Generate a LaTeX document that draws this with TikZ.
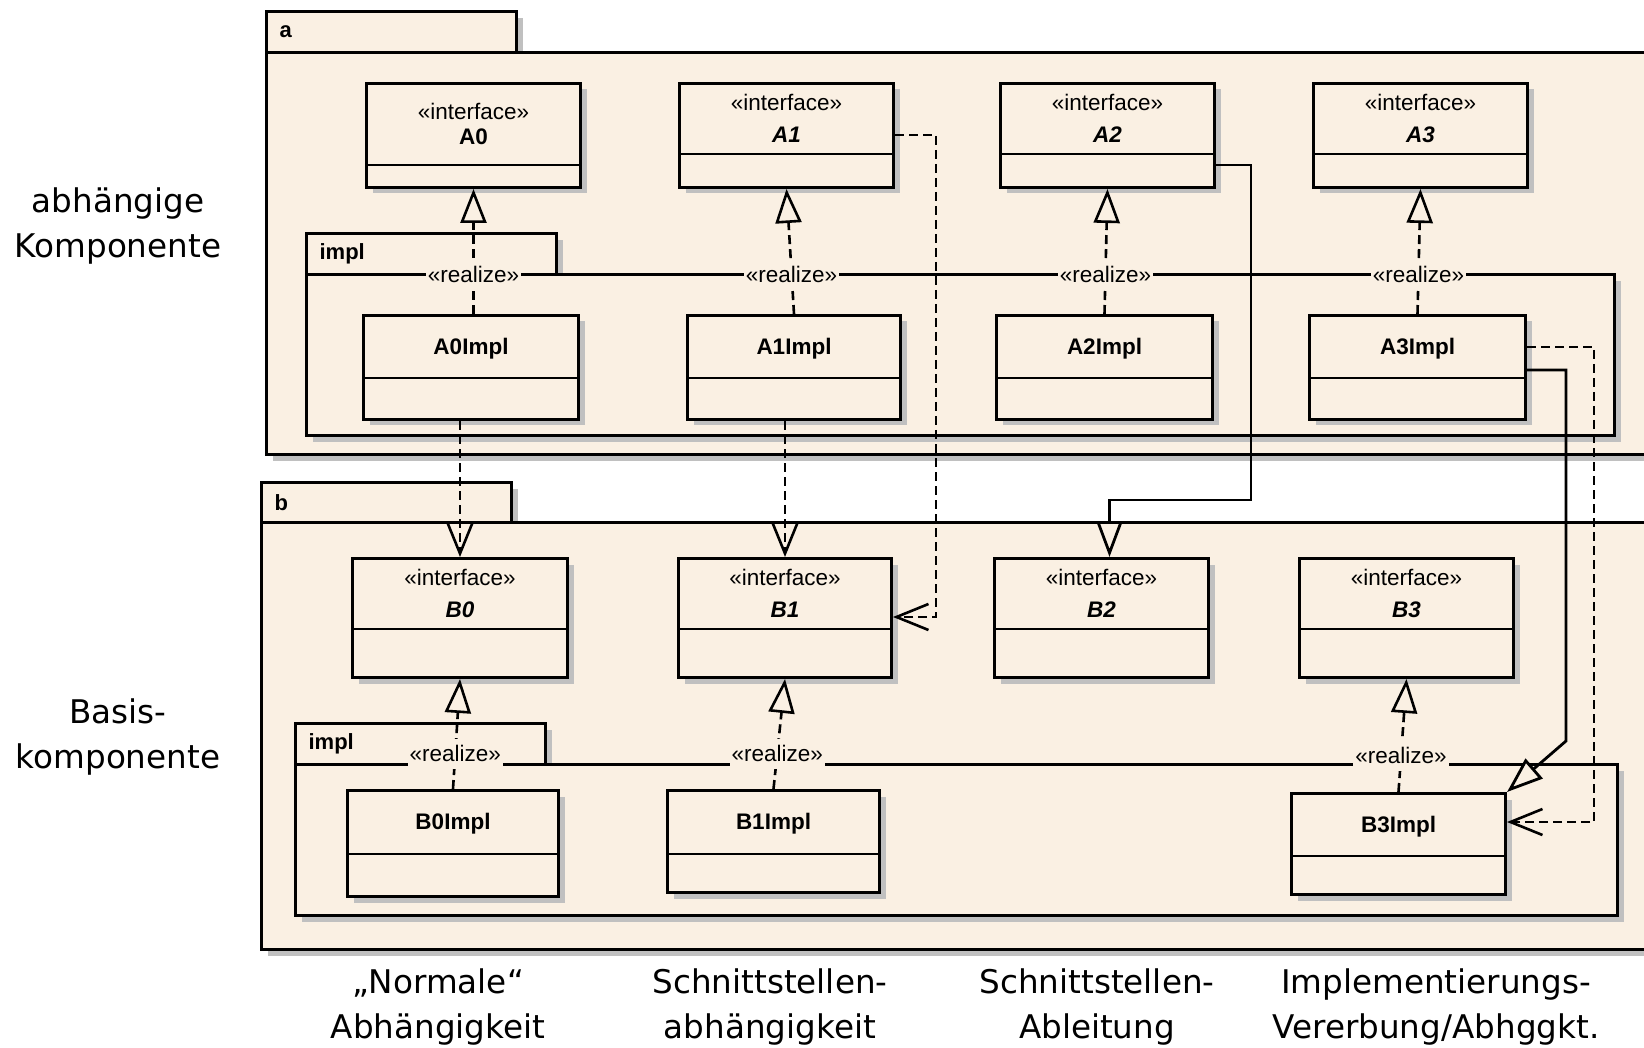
\documentclass[tikz,border=0pt]{standalone}
\usepackage{fontspec}
\setmainfont{Liberation Sans}
\newfontfamily\slidefont{DejaVu Sans}
\usepackage{tikz}
\usetikzlibrary{arrows.meta}
\usetikzlibrary{shadows}
\definecolor{umlfill}{RGB}{250,240,227}
\definecolor{umlshadow}{RGB}{192,192,192}
\tikzset{
  umlshade/.style={drop shadow={shadow xshift=6pt,shadow yshift=-6pt,fill=umlshadow,opacity=1}},
  pkgtab/.style={draw, line width=3.2pt, fill=umlfill, umlshade, anchor=north west, minimum width=250pt, minimum height=41pt, text width=224pt, inner xsep=13pt, inner ysep=0pt, align=left, font=\bfseries\fontsize{22pt}{26pt}\selectfont},
  pkgbody/.style={draw, line width=3.2pt, fill=umlfill, umlshade, anchor=north west, inner sep=0pt},
  classbox/.style={draw, line width=3pt, fill=umlfill, umlshade, anchor=north west, inner sep=0pt},
  classsep/.style={line width=2.6pt},
  classtext/.style={align=center, inner sep=0pt, text depth=0pt, font=\fontsize{22.5pt}{32pt}\selectfont},
  realize/.style={line width=2.6pt, dash pattern=on 9pt off 5pt, -{Triangle[length=34pt,width=26pt,fill=umlfill]}},
  realizelabel/.style={fill=umlfill, inner xsep=2pt, inner ysep=7pt, pos=.32, font=\fontsize{22.5pt}{26pt}\selectfont},
  dep/.style={line width=2.6pt, dash pattern=on 9pt off 5pt, -{Straight Barb[length=32pt,width=26pt]}},
  gen/.style={line width=2.8pt, -{Triangle[length=36pt,width=26pt,fill=umlfill]}},
  sidelabel/.style={align=center, font=\slidefont\fontsize{32.6pt}{45pt}\selectfont}
}
\newcommand{\umlclass}[7]{%
  \node[classbox, minimum width=#4pt, minimum height=#5pt] (#1) at (#2,#3) {};
  \draw[classsep] ([yshift=-#6pt]#1.north west) -- ([yshift=-#6pt]#1.north east);
  \node[classtext] (#1-text) at ([yshift=-#6pt/2]#1.north) {#7};
}

\begin{document}
\begin{tikzpicture}[x=1pt, y=-1pt]
\useasboundingbox (0,0) rectangle (1644,1048);

\node[pkgtab] (a-tab) at (265,10) {a};
\node[pkgbody, minimum width=1400pt, minimum height=402pt] (a) at (265,51) {};
\node[pkgtab] (aimpl-tab) at (305,232) {impl};
\node[pkgbody, minimum width=1308pt, minimum height=161pt] (aimpl) at (305,273) {};
\node[pkgtab] (b-tab) at (260,481) {b};
\node[pkgbody, minimum width=1400pt, minimum height=427pt] (b) at (260,521) {};
\node[pkgtab] (bimpl-tab) at (294,722) {impl};
\node[pkgbody, minimum width=1322pt, minimum height=151pt] (bimpl) at (294,763) {};

\umlclass{A0}{365}{82}{214}{104}{83}{«interface»\\[-7pt]\textbf{A0}}
\umlclass{A1}{678}{82}{214}{104}{72}{«interface»\\\textbf{\textit{A1}}}
\umlclass{A2}{999}{82}{214}{104}{72}{«interface»\\\textbf{\textit{A2}}}
\umlclass{A3}{1312}{82}{214}{104}{72}{«interface»\\\textbf{\textit{A3}}}
\umlclass{A0Impl}{362}{314}{215}{104}{64}{\textbf{A0Impl}}
\umlclass{A1Impl}{686}{314}{213}{104}{64}{\textbf{A1Impl}}
\umlclass{A2Impl}{995}{314}{216}{104}{64}{\textbf{A2Impl}}
\umlclass{A3Impl}{1308}{314}{216}{104}{64}{\textbf{A3Impl}}
\umlclass{B0}{351}{557}{215}{119}{72}{«interface»\\\textbf{\textit{B0}}}
\umlclass{B1}{677}{557}{213}{119}{72}{«interface»\\\textbf{\textit{B1}}}
\umlclass{B2}{993}{557}{214}{119}{72}{«interface»\\\textbf{\textit{B2}}}
\umlclass{B3}{1298}{557}{214}{119}{72}{«interface»\\\textbf{\textit{B3}}}
\umlclass{B0Impl}{346}{789}{211}{106}{65}{\textbf{B0Impl}}
\umlclass{B1Impl}{666}{789}{212}{102}{65}{\textbf{B1Impl}}
\umlclass{B3Impl}{1290}{792}{214}{101}{64}{\textbf{B3Impl}}

\draw[realize] (A0Impl.north -| A0.south) -- node[realizelabel] (A0-real) {«realize»} (A0.south);
\draw[realize] (A1Impl.north) -- node[realizelabel] (A1-real) {«realize»} (A1.south);
\draw[realize] (A2Impl.north) -- node[realizelabel] (A2-real) {«realize»} (A2.south);
\draw[realize] (A3Impl.north) -- node[realizelabel] (A3-real) {«realize»} (A3.south);
\draw[realize] (B0Impl.north) -- node[realizelabel] (B0-real) {«realize»} (B0.south);
\draw[realize] (B1Impl.north) -- node[realizelabel] (B1-real) {«realize»} (B1.south);
\draw[realize] (B3Impl.north) -- node[realizelabel] (B3-real) {«realize»} (B3.south);

\draw[dep] (A0Impl.south -| B0.north) -- (B0.north);
\draw[dep] (A1Impl.south -| B1.north) -- (B1.north);
\draw[dep] ([yshift=-53pt]A1.north east) -- ++(41,0) |- ([yshift=-60pt]B1.north east);
\draw[gen] ([yshift=-83pt]A2.north east) -- ++(35,0) -- ++(0,335) -| ([xshift=8pt]B2.north);
\draw[gen] ([yshift=-56pt]A3Impl.north east) -- ++(39,0) -- ++(0,371) -- (B3Impl.north east);
\draw[dep] ([yshift=-33pt]A3Impl.north east) -- ++(67,0) |- ([yshift=-30pt]B3Impl.north east);

\node[sidelabel] (dependent) at (118,226) {abhängige\\Komponente};
\node[sidelabel] (basis) at (118,737) {Basis-\\komponente};
\node[sidelabel] (normal) at (438,1007) {„Normale“\\Abhängigkeit};
\node[sidelabel] (ifacedep) at (770,1007) {Schnittstellen-\\abhängigkeit};
\node[sidelabel] (ifacederiv) at (1097,1007) {Schnittstellen-\\Ableitung};
\node[sidelabel] (impldep) at (1436,1007) {Implementierungs-\\Vererbung/Abhggkt.};

\end{tikzpicture}
\end{document}
